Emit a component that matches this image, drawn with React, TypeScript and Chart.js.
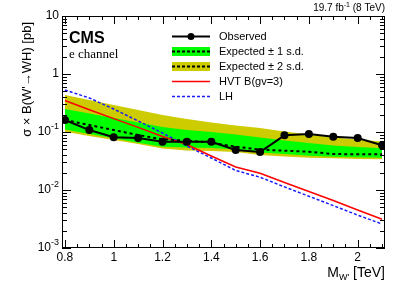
import React, { useEffect, useRef } from "react";
import { Chart, registerables } from "chart.js";
Chart.register(...registerables);

const masses = [0.8, 0.9, 1.0, 1.1, 1.2, 1.3, 1.4, 1.5, 1.6, 1.7, 1.8, 1.9, 2.0, 2.1];
const observed = [0.161, 0.108, 0.081, 0.0788, 0.0678, 0.0678, 0.0678, 0.049, 0.0452, 0.0877, 0.0924, 0.083, 0.0788, 0.059];
const expected = [0.161, 0.132, 0.108, 0.0887, 0.0748, 0.0708, 0.0654, 0.0558, 0.0498, 0.0476, 0.0457, 0.0417, 0.0413, 0.0413];
const oneSigmaUp = [0.249, 0.208, 0.174, 0.146, 0.122, 0.108, 0.1, 0.0906, 0.0804, 0.0713, 0.0645, 0.0585, 0.0551, 0.0523];
const oneSigmaDown = [0.11, 0.0924, 0.0779, 0.0654, 0.0558, 0.0541, 0.053, 0.0499, 0.0443, 0.0418, 0.039, 0.0375, 0.0366, 0.0361];
const twoSigmaUp = [0.434, 0.356, 0.292, 0.239, 0.196, 0.168, 0.146, 0.129, 0.117, 0.102, 0.0906, 0.0804, 0.0743, 0.0686];
const twoSigmaDown = [0.101, 0.0853, 0.0728, 0.0621, 0.052, 0.048, 0.047, 0.0452, 0.0401, 0.0378, 0.0361, 0.0352, 0.0342, 0.0338];
const hvt = [0.349, 0.242, 0.17, 0.12, 0.0836, 0.0608, 0.0386, 0.0249, 0.0194, 0.0135, 0.00942, 0.00659, 0.00452, 0.00313];
const lh = [0.53, 0.386, 0.249, 0.155, 0.0961, 0.0574, 0.0356, 0.0217, 0.0166, 0.0113, 0.00781, 0.00538, 0.00369, 0.00259];

const xTicks = [0.8, 1.0, 1.2, 1.4, 1.6, 1.8, 2.0];
const xTickLabels = ["0.8", "1", "1.2", "1.4", "1.6", "1.8", "2"];
const yDecades = [0.001, 0.01, 0.1, 1, 10];
const yDecadeBase = ["10", "10", "10", "1", "10"];
const yDecadeExp = ["-3", "-2", "-1", "", ""];

const legendLabels = ["Observed", "Expected \u00b1 1 s.d.", "Expected \u00b1 2 s.d.", "HVT B(gv=3)", "LH"];

const SANS = "'Liberation Sans', Arial, Helvetica, sans-serif";
const SERIF = "'Liberation Serif', 'Times New Roman', serif";
const GREEN = "#00ff00";
const YELLOW = "#cccc00";
const RED = "#ff0000";
const BLUE = "#1a1aff";

const pts = (ys: number[]) => masses.map((x, i) => ({ x, y: ys[i] }));

const decor = {
  id: "decor",
  afterDraw(chart: any) {
    const ctx = chart.ctx as CanvasRenderingContext2D;
    const { left, right, top, bottom } = chart.chartArea;
    const xs = chart.scales.x;
    const ys = chart.scales.y;
    ctx.save();
    // frame
    ctx.strokeStyle = "#000";
    ctx.lineWidth = 1;
    ctx.strokeRect(left + 0.5, top + 0.5, right - left - 1, bottom - top - 1);
    // x ticks
    ctx.beginPath();
    for (let v = 0.8; v <= 2.111; v += 0.05) {
      const px = Math.round(xs.getPixelForValue(v)) + 0.5;
      const major = Math.abs(Math.round(v * 5) - v * 5) < 1e-6;
      const len = major ? 8 : 4;
      ctx.moveTo(px, bottom);
      ctx.lineTo(px, bottom - len);
      ctx.moveTo(px, top);
      ctx.lineTo(px, top + len);
    }
    // y ticks
    for (let d = 0; d < yDecades.length; d++) {
      const dec = yDecades[d];
      for (let k = 1; k <= 9; k++) {
        if (d === yDecades.length - 1 && k > 1) break;
        const val = dec * k;
        const py = Math.round(ys.getPixelForValue(val)) + 0.5;
        const len = k === 1 ? 9 : 5;
        ctx.moveTo(left, py);
        ctx.lineTo(left + len, py);
        ctx.moveTo(right, py);
        ctx.lineTo(right - len, py);
      }
    }
    ctx.stroke();

    // x tick labels
    ctx.fillStyle = "#000";
    ctx.font = `12px ${SANS}`;
    ctx.textAlign = "center";
    ctx.textBaseline = "middle";
    xTicks.forEach((v, i) => {
      ctx.fillText(xTickLabels[i], xs.getPixelForValue(v), 258);
    });
    // y tick labels
    yDecades.forEach((v, i) => {
      const py = ys.getPixelForValue(v);
      const exp = yDecadeExp[i];
      ctx.font = `9px ${SANS}`;
      const ew = exp ? ctx.measureText(exp).width : 0;
      ctx.textAlign = "right";
      ctx.textBaseline = "middle";
      if (exp) ctx.fillText(exp, left - 3, py - 5);
      ctx.font = `12px ${SANS}`;
      ctx.fillText(yDecadeBase[i], left - 3 - ew, py);
    });

    // x title
    ctx.textBaseline = "alphabetic";
    ctx.textAlign = "right";
    ctx.font = `14px ${SANS}`;
    const t1 = " [TeV]";
    ctx.fillText(t1, right, 277);
    const w1 = ctx.measureText(t1).width;
    ctx.font = `9px ${SANS}`;
    const sub = "W'";
    ctx.fillText(sub, right - w1, 280);
    const w2 = ctx.measureText(sub).width;
    ctx.font = `14px ${SANS}`;
    ctx.fillText("M", right - w1 - w2, 277);

    // y title
    ctx.save();
    ctx.translate(27, 22);
    ctx.rotate(-Math.PI / 2);
    ctx.textAlign = "right";
    ctx.textBaseline = "middle";
    ctx.font = `13px ${SANS}`;
    ctx.fillText("\u03c3 \u00d7 B(W'\u2192WH) [pb]", 0, 0);
    ctx.restore();

    // top-right lumi
    ctx.textAlign = "right";
    ctx.textBaseline = "middle";
    ctx.font = `10px ${SANS}`;
    const l2 = " (8 TeV)";
    ctx.fillText(l2, right, 8);
    const lw2 = ctx.measureText(l2).width;
    ctx.font = `7px ${SANS}`;
    ctx.fillText("-1", right - lw2, 5);
    const lw3 = ctx.measureText("-1").width;
    ctx.font = `10px ${SANS}`;
    ctx.fillText("19.7 fb", right - lw2 - lw3, 8);

    // CMS label
    ctx.textAlign = "left";
    ctx.textBaseline = "alphabetic";
    ctx.font = `bold 16px ${SANS}`;
    ctx.fillText("CMS", 69, 43);
    ctx.font = `13px ${SERIF}`;
    ctx.fillText("e channel", 69, 58);

    // legend
    const lx0 = 172, lx1 = 210, tx = 219;
    const rows = [36.5, 51.5, 66.5, 81.5, 96.5];
    ctx.font = `11px ${SANS}`;
    ctx.textBaseline = "middle";
    rows.forEach((ry, i) => ctx.fillText(legendLabels[i], tx, ry));
    // observed
    ctx.strokeStyle = "#000";
    ctx.lineWidth = 2;
    ctx.beginPath();
    ctx.moveTo(lx0, rows[0]);
    ctx.lineTo(lx1, rows[0]);
    ctx.stroke();
    ctx.fillStyle = "#000";
    ctx.beginPath();
    ctx.arc((lx0 + lx1) / 2, rows[0], 3.5, 0, Math.PI * 2);
    ctx.fill();
    // bands
    [GREEN, YELLOW].forEach((c, j) => {
      const ry = rows[1 + j];
      ctx.fillStyle = c;
      ctx.fillRect(lx0, ry - 4.5, lx1 - lx0, 9);
      ctx.strokeStyle = "#000";
      ctx.lineWidth = 2;
      ctx.setLineDash([3, 2]);
      ctx.beginPath();
      ctx.moveTo(lx0, ry);
      ctx.lineTo(lx1, ry);
      ctx.stroke();
      ctx.setLineDash([]);
    });
    ctx.strokeStyle = RED;
    ctx.lineWidth = 1.5;
    ctx.beginPath();
    ctx.moveTo(lx0, rows[3]);
    ctx.lineTo(lx1, rows[3]);
    ctx.stroke();
    ctx.strokeStyle = BLUE;
    ctx.setLineDash([3, 2]);
    ctx.beginPath();
    ctx.moveTo(lx0, rows[4]);
    ctx.lineTo(lx1, rows[4]);
    ctx.stroke();
    ctx.setLineDash([]);
    ctx.restore();
  },
};

export default function App() {
  const ref = useRef<HTMLCanvasElement | null>(null);
  useEffect(() => {
    if (!ref.current) return;
    const chart = new Chart(ref.current, {
      type: "line",
      data: {
        datasets: [
          {
            label: "Observed",
            data: pts(observed),
            borderColor: "#000",
            backgroundColor: "#000",
            borderWidth: 2,
            pointRadius: 4,
            pointBackgroundColor: "#000",
            pointBorderWidth: 0,
            fill: false,
          },
          {
            label: "Expected",
            data: pts(expected),
            borderColor: "#000",
            borderWidth: 2,
            borderDash: [3, 3],
            pointRadius: 0,
            fill: false,
          },
          {
            label: "HVT B(gv=3)",
            data: pts(hvt),
            borderColor: RED,
            borderWidth: 1.5,
            pointRadius: 0,
            fill: false,
          },
          {
            label: "LH",
            data: pts(lh),
            borderColor: BLUE,
            borderWidth: 1.5,
            borderDash: [3, 2],
            pointRadius: 0,
            fill: false,
          },
          {
            label: "1sd up",
            data: pts(oneSigmaUp),
            borderWidth: 0,
            borderColor: "rgba(0,0,0,0)",
            backgroundColor: GREEN,
            pointRadius: 0,
            fill: 5,
          },
          {
            label: "1sd down",
            data: pts(oneSigmaDown),
            borderWidth: 0,
            borderColor: "rgba(0,0,0,0)",
            pointRadius: 0,
            fill: false,
          },
          {
            label: "2sd up",
            data: pts(twoSigmaUp),
            borderWidth: 0,
            borderColor: "rgba(0,0,0,0)",
            backgroundColor: YELLOW,
            pointRadius: 0,
            fill: 7,
          },
          {
            label: "2sd down",
            data: pts(twoSigmaDown),
            borderWidth: 0,
            borderColor: "rgba(0,0,0,0)",
            pointRadius: 0,
            fill: false,
          },
        ],
      },
      options: {
        responsive: false,
        animation: false,
        devicePixelRatio: 1,
        layout: { padding: { left: 62, right: 22, top: 16, bottom: 44 } },
        plugins: { legend: { display: false }, tooltip: { enabled: false } },
        scales: {
          x: { type: "linear", min: 0.788, max: 2.112, display: false },
          y: { type: "logarithmic", min: 0.001, max: 10, display: false },
        },
      },
      plugins: [decor],
    });
    return () => chart.destroy();
  }, []);
  return (
    <div style={{ position: "fixed", left: 0, top: 0, width: 407, height: 292, background: "#fff" }}>
      <canvas ref={ref} width={407} height={292} style={{ display: "block" }} />
    </div>
  );
}
